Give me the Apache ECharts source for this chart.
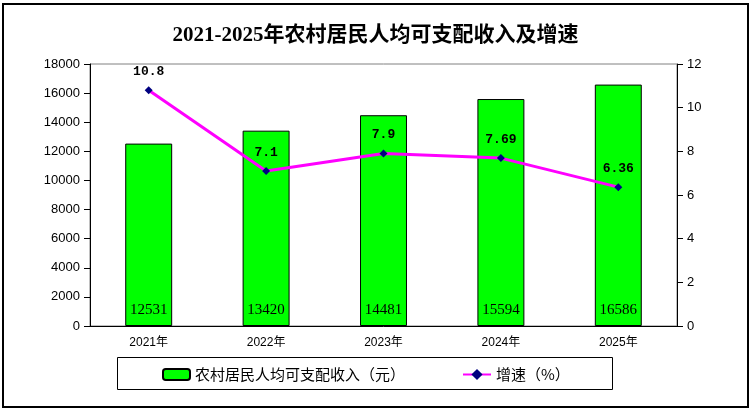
<!DOCTYPE html>
<html><head><meta charset="utf-8">
<script src="https://cdn.jsdelivr.net/npm/echarts@6/dist/echarts.min.js"></script>
<style>html,body{margin:0;padding:0;background:#fff}#c{width:751px;height:413px}</style>
</head><body><div id="c"></div>
<script>
var titleText = '2021-2025年农村居民人均可支配收入及增速';
var categories = ['2021年', '2022年', '2023年', '2024年', '2025年'];
var incomeName = '农村居民人均可支配收入（元）';
var growthName = '增速（%）';
var income = [12531, 13420, 14481, 15594, 16586];
var growth = [10.8, 7.1, 7.9, 7.69, 6.36];
var growthLabels = ['10.8', '7.1', '7.9', '7.69', '6.36'];

var chart = echarts.init(document.getElementById('c'), null, {renderer: 'canvas'});
var cjkSerif = '"Liberation Serif","Noto Sans CJK SC",serif';
chart.setOption({
  backgroundColor: '#fff',
  animation: false,
  title: {
    text: titleText, left: 'center', top: 20,
    textStyle: {fontSize: 21, fontWeight: 'bold', color: '#000', fontFamily: cjkSerif}
  },
  graphic: [
    {type: 'rect', shape: {x: 3, y: 4, width: 745, height: 403}, style: {fill: 'none', stroke: '#000', lineWidth: 2}, z: 0},
    {type: 'rect', shape: {x: 117.5, y: 357.5, width: 495, height: 32}, style: {fill: 'none', stroke: '#000', lineWidth: 1}, z: 0}
  ],
  legend: [
    {data: [incomeName], left: 157, top: 362, itemWidth: 27, itemHeight: 11,
     textStyle: {fontSize: 15, color: '#000', fontFamily: '"Noto Sans CJK SC",sans-serif'}},
    {data: [growthName], left: 457, top: 362, itemWidth: 28, itemHeight: 14,
     textStyle: {fontSize: 15, color: '#000', fontFamily: '"Noto Sans CJK SC",sans-serif'}}
  ],
  grid: {left: 90, right: 74, top: 64, bottom: 87, show: true, borderColor: '#808080', borderWidth: 1, backgroundColor: '#fff'},
  xAxis: {
    type: 'category', data: categories,
    axisLine: {lineStyle: {color: '#000', width: 1}},
    axisTick: {inside: true, length: 6, lineStyle: {color: '#000'}},
    axisLabel: {color: '#000', fontSize: 12, margin: 11, fontFamily: '"Liberation Sans","Noto Sans CJK SC",sans-serif'}
  },
  yAxis: [
    {type: 'value', min: 0, max: 18000, interval: 2000, position: 'left',
     axisLine: {show: true, lineStyle: {color: '#000'}},
     axisTick: {show: true, length: 6, lineStyle: {color: '#000'}},
     splitLine: {show: false},
     axisLabel: {color: '#000', fontSize: 13, margin: 10, fontFamily: '"Liberation Sans",Arial,sans-serif',
                 formatter: function (v) { return String(v); }}},
    {type: 'value', min: 0, max: 12, interval: 2, position: 'right',
     axisLine: {show: true, lineStyle: {color: '#000'}},
     axisTick: {show: true, length: 6, lineStyle: {color: '#000'}},
     splitLine: {show: false},
     axisLabel: {color: '#000', fontSize: 13, margin: 10, fontFamily: '"Liberation Sans",Arial,sans-serif',
                 formatter: function (v) { return String(v); }}}
  ],
  series: [
    {name: incomeName, type: 'bar', data: income, barWidth: '40%', yAxisIndex: 0,
     itemStyle: {color: '#00FF00', borderColor: '#000', borderWidth: 1},
     label: {show: true, position: 'insideBottom', distance: 8, color: '#000', fontSize: 15,
             fontFamily: '"Liberation Serif",serif'}},
    {name: growthName, type: 'line', data: growth, yAxisIndex: 1,
     lineStyle: {color: '#FF00FF', width: 3},
     itemStyle: {color: '#000080'},
     symbol: 'diamond', symbolSize: 8,
     label: {show: true, position: 'top', distance: 8, color: '#000', fontSize: 13, fontWeight: 'bold',
             fontFamily: '"Liberation Mono",monospace',
             formatter: function (p) { return growthLabels[p.dataIndex]; }},
     z: 5}
  ]
});
</script></body></html>
